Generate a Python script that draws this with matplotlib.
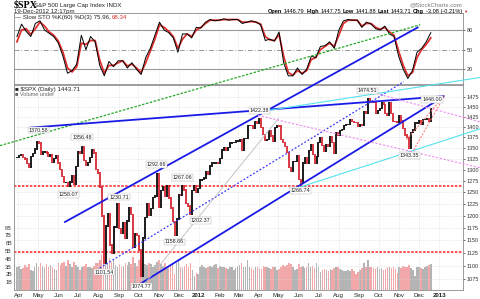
import numpy as np
import pandas as pd
import matplotlib
matplotlib.use("Agg")
import matplotlib.pyplot as plt

plt.rcParams["font.family"] = ["Liberation Sans", "DejaVu Sans"]

# $SPX price path, one value every 3 calendar days from 2011-03-30 to 2012-12-19
close = [
    1328, 1332, 1333, 1328, 1324, 1314, 1305, 1330, 1337, 1347, 1364,
    1361, 1335, 1340, 1342, 1338, 1329, 1333, 1317, 1325, 1331,
    1315, 1300, 1285, 1271, 1271, 1262, 1272, 1287, 1268, 1307, 1340,
    1338, 1353, 1320, 1309, 1316, 1327, 1345, 1338, 1300, 1292,
    1261, 1199, 1105, 1179, 1204, 1141, 1124, 1177, 1177, 1225, 1174,
    1165, 1186, 1154, 1189, 1216, 1202, 1136, 1163, 1160, 1131,
    1080, 1155, 1196, 1225, 1201, 1215, 1238, 1242, 1290, 1218,
    1253, 1261, 1240, 1264, 1237, 1216, 1188, 1160, 1193, 1245,
    1244, 1265, 1255, 1226, 1220, 1203, 1254, 1265, 1250, 1258,
    1277, 1278, 1281, 1296, 1289, 1308, 1315, 1315, 1316, 1313,
    1325, 1345, 1350, 1343, 1350, 1361, 1362, 1363, 1366, 1366,
    1370, 1343, 1371, 1371, 1403, 1404, 1403, 1397, 1412, 1408,
    1419, 1398, 1382, 1368, 1370, 1391, 1378, 1366, 1399, 1403,
    1402, 1369, 1363, 1353, 1339, 1305, 1295, 1318, 1318, 1332,
    1278, 1270, 1315, 1326, 1315, 1343, 1358, 1335, 1314, 1330,
    1362, 1374, 1355, 1342, 1357, 1353, 1376, 1363, 1338, 1386,
    1379, 1391, 1394, 1403, 1406, 1406, 1418, 1413, 1411, 1410,
    1400, 1406, 1403, 1438, 1434, 1470, 1462, 1461, 1460, 1433,
    1441, 1446, 1461, 1455, 1432, 1429, 1460, 1433, 1413, 1412,
    1411, 1427, 1414, 1395, 1380, 1375, 1348, 1386, 1392, 1409,
    1409, 1416, 1407, 1418, 1418, 1419, 1413, 1444,
]

# volume in billions, same sampling
volume = [
    2.9, 3.1, 2.7, 2.8, 3.2, 2.9, 3.3, 2.6, 2.4, 2.9, 3.4,
    3.0, 3.5, 3.1, 2.8, 3.3, 3.0, 3.2, 2.9, 2.7, 2.6,
    3.4, 3.2, 3.5, 3.6, 3.1, 3.9, 3.3, 2.9, 3.6, 3.2, 3.0,
    2.6, 2.9, 3.1, 3.3, 3.0, 2.9, 2.8, 3.1, 3.5, 3.4,
    3.9, 4.5, 4.3, 3.8, 3.5, 4.1, 3.6, 3.9, 3.2, 3.0, 3.3,
    2.9, 3.1, 3.4, 3.2, 3.6, 3.3, 4.2, 3.5, 3.1, 3.8,
    4.0, 3.6, 3.3, 3.2, 3.5, 3.3, 3.0, 3.2, 3.6, 3.9,
    3.3, 3.1, 3.4, 2.9, 3.0, 3.2, 3.3, 2.0, 3.4, 3.7,
    3.0, 2.8, 3.1, 3.3, 3.0, 3.4, 2.6, 1.8, 2.2, 2.0,
    3.0, 3.2, 2.9, 2.8, 3.0, 3.1, 2.9, 3.2, 3.3, 2.8,
    3.1, 2.9, 3.0, 2.8, 2.7, 3.0, 2.9, 2.6, 2.8, 3.1,
    3.2, 3.4, 3.0, 2.9, 3.9, 3.0, 2.8, 2.6, 2.9, 3.0,
    2.8, 2.7, 3.1, 3.0, 2.9, 2.8, 2.7, 2.9, 3.0, 2.6,
    2.7, 3.0, 3.2, 3.1, 3.2, 3.4, 3.3, 2.9, 2.6, 2.7,
    3.3, 3.0, 3.1, 2.8, 3.0, 3.5, 3.0, 3.1, 2.8, 3.4,
    3.0, 2.3, 2.6, 2.7, 2.6, 2.5, 2.7, 2.6, 2.8, 3.0,
    2.9, 2.7, 2.6, 2.5, 2.4, 2.6, 2.5, 2.7, 2.4, 2.1,
    2.3, 2.6, 2.8, 3.4, 2.9, 3.8, 3.0, 2.9, 2.8, 2.7,
    2.9, 2.7, 2.8, 2.6, 2.7, 2.9, 3.0, 2.8, 3.0, 2.7,
    2.2, 3.0, 2.8, 3.1, 3.0, 2.9, 3.2, 2.8, 2.6, 1.8,
    2.9, 3.0, 2.8, 2.7, 2.9, 3.1, 3.2, 3.3,
]

# Slow STO %K(60) %D(3), weekly (Wednesdays) from 2011-03-30
stoch_k = [70, 89, 78, 70, 90, 94, 80, 75, 70, 60,
           40, 14, 18, 28, 72, 50, 70, 62, 26, 10,
           32, 24, 33, 33, 22, 30, 20, 12, 38, 52,
           72, 92, 80, 76, 68, 46, 74, 74, 68, 84,
           83, 92, 96, 94, 95, 97, 95, 96, 96, 90,
           92, 94, 92, 88, 64, 66, 63, 77, 30, 10,
           10, 22, 12, 20, 40, 38, 55, 56, 62, 52,
           80, 94, 96, 95, 95, 84, 92, 89, 82, 80,
           86, 74, 70, 40, 20, 6, 18, 46, 52, 62, 76]
stoch_d = [62, 80, 82, 73, 82, 92, 86, 77, 72, 63,
           46, 22, 16, 24, 60, 58, 64, 64, 34, 14,
           26, 26, 30, 33, 25, 28, 22, 15, 30, 48,
           66, 88, 84, 78, 70, 52, 66, 74, 70, 80,
           84, 90, 95, 95, 95, 96, 96, 96, 96, 92,
           92, 93, 92, 89, 70, 65, 64, 73, 40, 15,
           11, 18, 14, 18, 35, 38, 50, 55, 60, 55,
           72, 90, 95, 95, 95, 86, 90, 90, 84, 81,
           84, 77, 72, 48, 26, 10, 15, 38, 50, 58, 68]

# labelled highs / lows
pivot_dates = ["2011-05-02", "2011-07-07", "2011-10-28", "2011-12-07", "2011-06-16",
               "2011-08-31", "2011-12-19", "2011-11-25", "2011-08-09", "2011-10-04",
               "2012-04-02", "2012-09-14", "2012-06-04", "2012-11-16", "2012-12-18"]
pivot_values = [1370.58, 1356.48, 1292.66, 1267.06, 1258.07,
                1230.71, 1202.37, 1158.66, 1101.54, 1074.77,
                1422.38, 1474.51, 1266.74, 1343.35, 1448.00]
pivot_offsets = [(0, 9), (0, 8), (0, 8), (0, 7), (0, -6),
                 (1, 4), (10, -6), (0, -6), (1, -7), (1, -7),
                 (0, 7), (0, 6), (0, -6), (0, -5), (2, 8)]

# drawn trendlines: start date, start price, end date, end price
trend_lines = [
    ("2011-03-04", 1355, "2012-12-03", 1671),
    ("2011-06-11", 1187, "2012-11-29", 1663),
    ("2011-09-28", 1062, "2013-01-07", 1475),
    ("2011-04-20", 1398, "2013-01-07", 1476),
    ("2011-08-03", 1096, "2012-11-08", 1514),
    ("2011-10-06", 1060, "2012-05-01", 1420),
    ("2012-03-26", 1435, "2013-03-04", 1525),
    ("2012-06-03", 1261, "2013-03-04", 1395),
    ("2012-09-21", 1486, "2013-03-04", 1412),
    ("2012-03-31", 1428, "2013-03-04", 1304),
    ("2012-11-12", 1369, "2013-01-09", 1478),
    ("2012-11-23", 1345, "2013-01-09", 1478),
]
trend_styles = [
    dict(color="#22aa22", lw=0.9, ls=(0, (2, 1.2))),
    dict(color="#1a1ae6", lw=1.3, ls="-"),
    dict(color="#1a1ae6", lw=1.3, ls="-"),
    dict(color="#1a1ae6", lw=1.3, ls="-"),
    dict(color="#3a3aff", lw=0.9, ls=(0, (1.5, 1.5))),
    dict(color="#bbbbbb", lw=0.6, ls="-"),
    dict(color="#55e0ee", lw=0.8, ls="-"),
    dict(color="#55e0ee", lw=0.8, ls="-"),
    dict(color="#ee88ee", lw=0.8, ls=(0, (2, 1.5))),
    dict(color="#ee88ee", lw=0.8, ls=(0, (2, 1.5))),
    dict(color="#ff7070", lw=0.7, ls=(0, (2, 1.5))),
    dict(color="#ff7070", lw=0.7, ls=(0, (2, 1.5))),
]
support_levels = [1263, 1127]

month_ticks = pd.date_range("2011-04-01", "2013-01-01", freq="MS")
month_labels = ["Apr", "May", "Jun", "Jul", "Aug", "Sep", "Oct", "Nov", "Dec", "2012",
                "Feb", "Mar", "Apr", "May", "Jun", "Jul", "Aug", "Sep", "Oct", "Nov",
                "Dec", "2013"]
price_ticks = list(range(1075, 1476, 25))

# ---------------------------------------------------------------- layout
W, H = 480, 299
def rect(x0, y0, x1, y1):
    return [x0 / W, 1 - y1 / H, (x1 - x0) / W, (y1 - y0) / H]

fig = plt.figure(figsize=(4.8, 2.99), dpi=100)
spine_c = "#8c8c8c"
fs = 4.4
xlim = (pd.Timestamp("2011-03-25 12:00"), pd.Timestamp("2013-02-06"))

dates = pd.date_range("2011-03-30", periods=len(close), freq="3D")
sdates = pd.date_range("2011-03-30", periods=len(stoch_k), freq="7D")
c = np.array(close, float)
prev = np.r_[c[0], c[:-1]]
up = c >= prev

# stochastic panel
ax_s = fig.add_axes(rect(14, 13.5, 463, 84.5))
ax_s.set_xlim(*xlim)
ax_s.set_ylim(-3.2, 105.2)
for lvl in (80, 20):
    ax_s.axhline(lvl, color="#999999", lw=0.8)
ax_s.axhline(50, color="#999999", lw=0.7, ls=(0, (5, 2, 1, 2)))
ax_s.plot(sdates, stoch_d, color="#e03030", lw=1.3)
ax_s.plot(sdates, stoch_k, color="black", lw=0.7)
ax_s.set_xticks(month_ticks)
ax_s.tick_params(axis="x", length=0, labelbottom=False)
ax_s.grid(axis="x", color="#dddddd", lw=0.5, ls=":")
ax_s.yaxis.tick_right()
ax_s.set_yticks([20, 50, 80])
ax_s.tick_params(axis="y", length=1.5, width=0.5, pad=1.0, labelsize=4.0, colors="#333333")
for s in ax_s.spines.values():
    s.set_color(spine_c)
    s.set_linewidth(0.6)

# volume (under price)
ax_v = fig.add_axes(rect(14, 84.5, 463, 290))
ax_v.bar(dates, volume, width=2.4, color=np.where(up, "#b4b4b4", "#f2a8a8"), linewidth=0)
ax_v.set_xlim(*xlim)
ax_v.set_ylim(0, 205.5 / 7.8)
ax_v.set_yticks(range(1, 9))
ax_v.set_yticklabels([f"{v}B" for v in range(1, 9)])
ax_v.tick_params(axis="y", length=0, pad=1.5, labelsize=4.0, colors="#333333")
ax_v.set_xticks(month_ticks)
ax_v.tick_params(axis="x", length=0, labelbottom=False)
for s in ax_v.spines.values():
    s.set_visible(False)

# price panel
ax = fig.add_axes(rect(14, 84.5, 463, 290), sharex=ax_v)
ax.patch.set_alpha(0)
ax.set_yscale("log")
ax.set_ylim(1055, 1506.5)
ax.set_xlim(*xlim)
ax.yaxis.tick_right()
ax.set_yticks(price_ticks)
ax.set_yticklabels([str(t) for t in price_ticks])
ax.yaxis.set_minor_locator(plt.NullLocator())
ax.tick_params(axis="y", length=1.5, width=0.5, pad=1.0, labelsize=4.0, colors="#333333")
ax.set_xticks(month_ticks)
ax.set_xticklabels(month_labels)
ax.tick_params(axis="x", length=0, pad=2.0, labelsize=4.4, colors="#222222")
for lab in ax.get_xticklabels():
    if lab.get_text().startswith("20"):
        lab.set_fontweight("bold")
ax.grid(True, color="#d8d8d8", lw=0.5, ls=":")
for s in ax.spines.values():
    s.set_color(spine_c)
    s.set_linewidth(0.6)

ax.vlines(dates, np.minimum(prev, c) - 1.5, np.maximum(prev, c) + 1.5,
          colors=np.where(up, "black", "#d4202c"), lw=1.25, zorder=3)

for lvl in support_levels:
    ax.axhline(lvl, color="#ff2020", lw=1.1, ls=(0, (1.6, 1.0)), zorder=2)

for (d0, p0, d1, p1), st in zip(trend_lines, trend_styles):
    ax.plot([pd.Timestamp(d0), pd.Timestamp(d1)], [p0, p1], clip_on=False, zorder=4, **st)

for d, v, off in zip(pivot_dates, pivot_values, pivot_offsets):
    ax.annotate(f"{v:.2f}", (pd.Timestamp(d), v), xytext=(off[0] * 0.72, off[1] * 0.72),
                textcoords="offset points", ha="center", va="center", fontsize=3.9,
                color="#222222", zorder=6,
                bbox=dict(boxstyle="square,pad=0.15", fc="white", ec="#aaaaaa", lw=0.3))

# ---------------------------------------------------------------- header texts
def ftext(x, y, s, **kw):
    kw.setdefault("fontsize", fs)
    kw.setdefault("va", "center")
    return fig.text(x / W, 1 - y / H, s, **kw)

renderer = fig.canvas.get_renderer()

def text_run(x, y, parts, gap=1.5, **kw):
    # place text pieces one after another, left to right
    for s, extra in parts:
        t = ftext(x, y, s, **{**kw, **extra})
        x += t.get_window_extent(renderer).width + gap
    return x

ftext(14, 5, "$SPX", fontsize=7.2, fontweight="bold", family=["Liberation Serif", "DejaVu Serif"])
ftext(34, 5.5, "S&P 500 Large Cap Index INDX", color="#222222")
ftext(14, 11, "19-Dec-2012 12:17pm", color="#222222")
ftext(462, 5, "@StockCharts.com", ha="right", color="#777777")

b = dict(fontweight="bold")
n = dict()
text_run(268, 11.5, [("Open", b), ("1446.79", n), ("High", b), ("1447.75", n), ("Low", b),
                     ("1441.88", n), ("Last", b), ("1443.71", n), ("Chg", b),
                     ("-3.08 (-0.21%)", n), ("\u25bc", dict(color="#cc2030", fontsize=3.2))],
         gap=1.6, color="black", fontsize=4.1)

text_run(15, 17.8, [("\u2014 Slow STO %K(60) %D(3) 75.96,", dict(color="#222222")),
                    ("68.34", dict(color="#e03030"))], gap=1.2)
ftext(15, 89.5, "\u25a0 $SPX (Daily) 1443.71", color="#222222")
ftext(15, 94.5, "\u25a0 Volume undef", color="#666666", fontsize=4.0)

fig.savefig("out.png", dpi=100, facecolor="white")
